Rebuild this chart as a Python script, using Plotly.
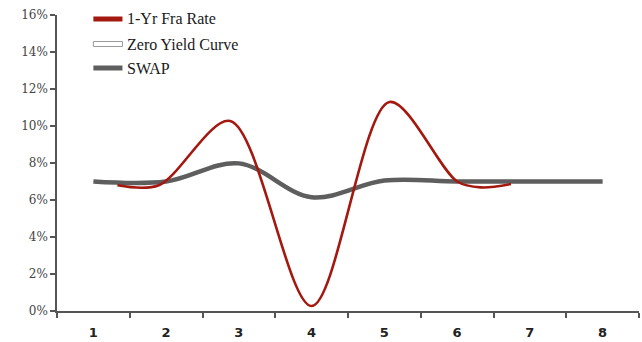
import plotly.graph_objects as go

# Forward-rate curve (1-year FRA), smoothed through these anchor points
fra_x = [1.33, 1.9, 2.88, 4.0, 5.07, 6.0, 6.33, 6.74]
fra_y = [6.8, 6.8, 10.27, 0.27, 11.3, 7.0, 6.68, 6.86]

# Swap rate curve
swap_x = [1, 2, 3, 4, 5, 6, 7, 8]
swap_y = [7.0, 7.0, 7.98, 6.15, 7.05, 7.0, 7.0, 7.0]

# Zero yield curve (white line)
zero_x = [1, 2, 3, 4, 5, 6, 7, 8]
zero_y = [7.0, 7.0, 7.98, 6.15, 7.05, 7.0, 7.0, 7.0]

x_labels = ["1", "2", "3", "4", "5", "6", "7", "8"]
y_ticks = [0, 2, 4, 6, 8, 10, 12, 14, 16]

legend_items = [
    ("1-Yr Fra Rate", "#a3180f", None),
    ("Zero Yield Curve", "#ffffff", "#9a9a9a"),
    ("SWAP", "#5e5e5e", None),
]

RED = "#a3180f"
GRAY = "#5e5e5e"

fig = go.Figure()
fig.add_trace(go.Scatter(x=zero_x, y=zero_y, mode="lines",
                         line=dict(color="#ffffff", width=3, shape="spline"),
                         showlegend=False, hoverinfo="skip"))
fig.add_trace(go.Scatter(x=swap_x, y=swap_y, mode="lines",
                         line=dict(color=GRAY, width=4.5, shape="spline", smoothing=1.0),
                         showlegend=False))
fig.add_trace(go.Scatter(x=fra_x, y=fra_y, mode="lines",
                         line=dict(color=RED, width=2.6, shape="spline", smoothing=0.9),
                         showlegend=False))

# Hand-built legend in the top-left corner
shapes = []
annotations = []
leg_y = [19, 44, 68]  # pixel rows from top of figure
H = 342
top, bottom = 15, 31
plot_h = H - top - bottom
for (label, fill, border), py in zip(legend_items, leg_y):
    yc = 1 - (py - top) / plot_h
    half = 2.5 / plot_h
    shapes.append(dict(type="rect", xref="x", yref="paper",
                       x0=1.0, x1=1.4, y0=yc - half, y1=yc + half,
                       fillcolor=fill,
                       line=dict(color=border if border else fill, width=1 if border else 0)))
    annotations.append(dict(x=1.43, y=yc, xref="x", yref="paper", text=label,
                            showarrow=False, xanchor="left", yanchor="middle",
                            font=dict(family="Liberation Serif", size=16, color="#1a1a1a")))

fig.update_layout(
    width=642, height=342,
    margin=dict(l=57, r=3, t=top, b=bottom),
    paper_bgcolor="white", plot_bgcolor="white",
    shapes=shapes, annotations=annotations,
    xaxis=dict(range=[0.5, 8.5], tickvals=swap_x, ticktext=x_labels,
               ticks="", showgrid=False, zeroline=False,
               showline=True, linecolor="#555555", linewidth=1.5,
               tickfont=dict(family="DejaVu Sans", size=13, color="#222222", weight="bold"),
               ticklabelstandoff=9,
               minor=dict(tickvals=[0.5 + i for i in range(9)], ticks="outside",
                          ticklen=5, tickcolor="#555555", tickwidth=1.5, showgrid=False)),
    yaxis=dict(range=[0, 16], tickvals=y_ticks,
               ticktext=[f"{v}%" for v in y_ticks],
               ticks="outside", ticklen=5, tickcolor="#555555", tickwidth=1.5,
               showgrid=False, zeroline=False,
               showline=True, linecolor="#555555", linewidth=1.5,
               tickfont=dict(family="DejaVu Serif", size=12, color="#444444")),
)

fig.write_html("out.html")
